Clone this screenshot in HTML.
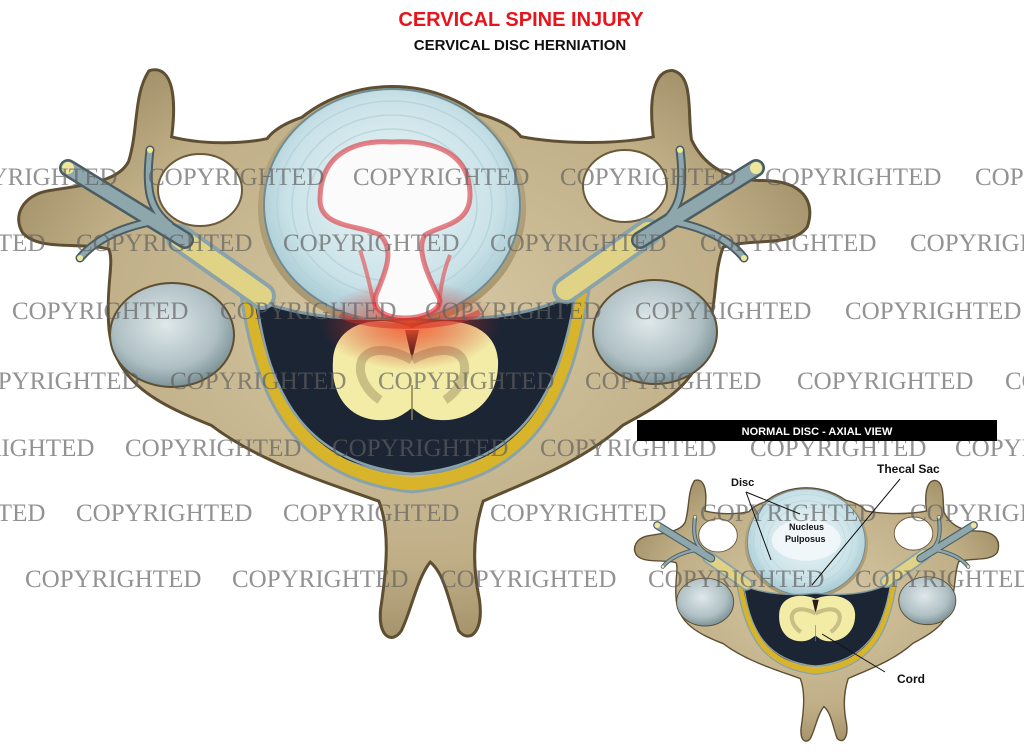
<!DOCTYPE html>
<html><head><meta charset="utf-8"><style>
html,body{margin:0;padding:0;background:#fff;}
body{width:1024px;height:755px;overflow:hidden;}
svg{display:block;}
</style></head><body>
<svg width="1024" height="755" viewBox="0 0 1024 755" xmlns="http://www.w3.org/2000/svg">
<defs>
<radialGradient id="bone" cx="50%" cy="45%" r="60%">
<stop offset="0" stop-color="#d8caa6"/><stop offset="0.7" stop-color="#bfae86"/><stop offset="1" stop-color="#9c8a63"/>
</radialGradient>
<radialGradient id="facet" cx="45%" cy="40%" r="60%">
<stop offset="0" stop-color="#dfe8ea"/><stop offset="0.7" stop-color="#aebfc3"/><stop offset="1" stop-color="#7d9398"/>
</radialGradient>
<radialGradient id="disc" cx="50%" cy="45%" r="55%">
<stop offset="0" stop-color="#eef6f8"/><stop offset="0.75" stop-color="#c9e2e8"/><stop offset="1" stop-color="#a9cad3"/>
</radialGradient>
<radialGradient id="glow" cx="50%" cy="50%" r="50%">
<stop offset="0" stop-color="#ff5a2a" stop-opacity="0.9"/><stop offset="1" stop-color="#c02020" stop-opacity="0"/>
</radialGradient>
<g id="vert">
  <g fill="#5e4e32" stroke="#5e4e32" stroke-width="6" stroke-linejoin="round">
    <path id="blob" d="M150,72 C172,66 175,100 170,138 C200,146 240,146 268,140 C300,95 490,95 520,138 C560,146 620,146 655,138 C650,100 655,72 672,72 C692,76 686,112 690,140 C700,162 722,182 762,182 C802,182 814,202 806,226 C792,246 752,236 722,246 C712,272 716,300 706,332 C700,382 662,402 622,424 C580,462 522,482 482,500 C472,530 470,562 478,600 C482,630 470,642 460,630 C450,600 446,572 430,560 C416,576 410,610 400,630 C392,642 380,636 382,610 C388,570 392,530 380,500 C330,482 262,462 212,424 C162,404 112,382 110,322 C108,282 116,262 110,248 C82,240 40,250 24,232 C14,216 24,196 50,192 C90,186 120,182 130,162 C140,130 135,95 150,72 Z"/>
    <ellipse cx="392" cy="208" rx="134" ry="120"/>
  </g>
  <g fill="url(#bone)">
    <use href="#blob"/>
    <ellipse cx="392" cy="208" rx="134" ry="120"/>
  </g>
  <ellipse cx="200" cy="190" rx="42" ry="36" fill="#fff" stroke="#6b5a3a" stroke-width="2"/>
  <ellipse cx="625" cy="186" rx="42" ry="36" fill="#fff" stroke="#6b5a3a" stroke-width="2"/>
  <ellipse cx="172" cy="335" rx="62" ry="52" fill="url(#facet)" stroke="#5e4e32" stroke-width="2"/>
  <ellipse cx="655" cy="332" rx="62" ry="52" fill="url(#facet)" stroke="#5e4e32" stroke-width="2"/>
  <ellipse cx="392" cy="205" rx="128" ry="116" fill="url(#disc)" stroke="#6f8c94" stroke-width="2"/>
  <g fill="none" stroke="#b4d2d9" stroke-width="1.5" opacity="0.8">
    <ellipse cx="392" cy="205" rx="115" ry="104"/>
    <ellipse cx="392" cy="205" rx="100" ry="90"/>
    <ellipse cx="392" cy="205" rx="85" ry="76"/>
  </g>
  <path d="M252,298 C300,318 360,322 412,316 C470,322 530,318 578,292 C570,390 530,470 412,474 C296,470 258,390 252,298 Z" fill="#1c2534" stroke="#7d98a2" stroke-width="3"/>
  <path d="M246,290 C262,400 300,472 412,484 C528,472 568,400 584,286" fill="none" stroke="#d8b42a" stroke-width="13"/>
  <path d="M240,288 C256,404 296,480 412,492 C532,480 574,404 590,282" fill="none" stroke="#8aa3ab" stroke-width="3"/>
  <path d="M256,296 C268,396 306,464 412,474 C522,464 560,396 576,290" fill="none" stroke="#8aa3ab" stroke-width="2.5"/>
  <path d="M262,296 L180,238" stroke="#8aa3ab" stroke-width="28" stroke-linecap="round"/>
  <path d="M262,296 L180,238" stroke="#e0d386" stroke-width="20" stroke-linecap="round"/>
  <path d="M566,290 L648,232" stroke="#8aa3ab" stroke-width="28" stroke-linecap="round"/>
  <path d="M566,290 L648,232" stroke="#e0d386" stroke-width="20" stroke-linecap="round"/>
  <g stroke="#4a5d63" stroke-linecap="round" fill="none">
    <path d="M68,168 L185,240" stroke-width="18"/>
    <path d="M150,150 C145,190 150,210 170,225" stroke-width="9"/>
    <path d="M80,258 C95,240 120,228 150,222" stroke-width="9"/>
    <path d="M756,168 L640,240" stroke-width="18"/>
    <path d="M680,150 C685,190 680,210 660,225" stroke-width="9"/>
    <path d="M744,258 C730,240 705,228 675,222" stroke-width="9"/>
  </g>
  <g stroke="#8ea7ad" stroke-linecap="round" fill="none">
    <path d="M68,168 L185,240" stroke-width="13"/>
    <path d="M150,150 C145,190 150,210 170,225" stroke-width="5"/>
    <path d="M80,258 C95,240 120,228 150,222" stroke-width="5"/>
    <path d="M756,168 L640,240" stroke-width="13"/>
    <path d="M680,150 C685,190 680,210 660,225" stroke-width="5"/>
    <path d="M744,258 C730,240 705,228 675,222" stroke-width="5"/>
  </g>
  <circle cx="68" cy="168" r="6" fill="#efe79a"/>
  <circle cx="756" cy="168" r="6" fill="#efe79a"/>
  <circle cx="150" cy="150" r="3" fill="#efe79a"/>
  <circle cx="680" cy="150" r="3" fill="#efe79a"/>
  <circle cx="80" cy="258" r="3" fill="#efe79a"/>
  <circle cx="744" cy="258" r="3" fill="#efe79a"/>
  <path d="M412,328 C440,315 495,318 498,360 C500,400 470,422 440,420 C425,420 418,412 412,408 C406,412 398,420 384,420 C354,422 330,400 333,360 C336,318 385,315 412,328 Z" fill="#f3eca6"/>
  <path d="M405,330 L412,360 L419,330 Z" fill="#2a1a20"/>
  <path d="M412,360 C395,350 370,345 362,360 C356,375 368,392 380,400 M412,360 C430,350 455,345 463,360 C469,375 457,392 445,400" fill="none" stroke="#b7ad78" stroke-width="9" opacity="0.7"/>
  <line x1="412" y1="385" x2="412" y2="420" stroke="#8a8050" stroke-width="1.5"/>
</g>
</defs>

<use href="#vert"/>
<ellipse cx="410" cy="325" rx="90" ry="45" fill="url(#glow)"/>
<path d="M320,200 C320,150 360,140 392,142 C430,140 470,150 470,195 C470,225 440,225 425,235 C415,250 430,280 440,300 C440,312 420,318 405,318 C385,318 372,310 376,295 C386,270 395,250 380,235 C360,225 320,228 320,200 Z" fill="#fbfbfb" stroke="#d8303a" stroke-width="5" stroke-opacity="0.6"/>
<path d="M360,250 C370,280 372,300 376,310 M450,255 C440,280 440,300 438,310" stroke="#e2474a" stroke-width="4" fill="none" opacity="0.6"/>
<path d="M340,315 C370,330 450,330 480,312" stroke="#cc2a2a" stroke-width="6" fill="none" opacity="0.5"/>

<g transform="translate(626,448) scale(0.46)">
  <use href="#vert"/>
  <ellipse cx="392" cy="200" rx="75" ry="45" fill="#f2f7f9" opacity="0.9"/>
</g>

<g font-family="Liberation Serif, serif" font-size="25" fill="#5f5f5f" opacity="0.68">
  <text x="-59" y="185">COPYRIGHTED</text><text x="148" y="185">COPYRIGHTED</text><text x="353" y="185">COPYRIGHTED</text><text x="560" y="185">COPYRIGHTED</text><text x="765" y="185">COPYRIGHTED</text><text x="975" y="185">COPYRIGHTED</text>
  <text x="-131" y="251">COPYRIGHTED</text><text x="76" y="251">COPYRIGHTED</text><text x="283" y="251">COPYRIGHTED</text><text x="490" y="251">COPYRIGHTED</text><text x="700" y="251">COPYRIGHTED</text><text x="910" y="251">COPYRIGHTED</text>
  <text x="12" y="319">COPYRIGHTED</text><text x="220" y="319">COPYRIGHTED</text><text x="425" y="319">COPYRIGHTED</text><text x="635" y="319">COPYRIGHTED</text><text x="845" y="319">COPYRIGHTED</text>
  <text x="-37" y="389">COPYRIGHTED</text><text x="170" y="389">COPYRIGHTED</text><text x="378" y="389">COPYRIGHTED</text><text x="585" y="389">COPYRIGHTED</text><text x="797" y="389">COPYRIGHTED</text><text x="1005" y="389">COPYRIGHTED</text>
  <text x="-82" y="456">COPYRIGHTED</text><text x="125" y="456">COPYRIGHTED</text><text x="332" y="456">COPYRIGHTED</text><text x="540" y="456">COPYRIGHTED</text><text x="750" y="456">COPYRIGHTED</text><text x="955" y="456">COPYRIGHTED</text>
  <text x="-131" y="521">COPYRIGHTED</text><text x="76" y="521">COPYRIGHTED</text><text x="283" y="521">COPYRIGHTED</text><text x="490" y="521">COPYRIGHTED</text><text x="700" y="521">COPYRIGHTED</text><text x="910" y="521">COPYRIGHTED</text>
  <text x="25" y="587">COPYRIGHTED</text><text x="232" y="587">COPYRIGHTED</text><text x="440" y="587">COPYRIGHTED</text><text x="648" y="587">COPYRIGHTED</text><text x="855" y="587">COPYRIGHTED</text>
</g>

<rect x="637" y="420" width="360" height="21" fill="#000"/>
<text x="817" y="435" text-anchor="middle" font-family="Liberation Sans, sans-serif" font-weight="bold" font-size="11" fill="#fff">NORMAL DISC - AXIAL VIEW</text>

<g font-family="Liberation Sans, sans-serif" font-weight="bold" fill="#111">
  <text x="731" y="486" font-size="11">Disc</text>
  <text x="877" y="473" font-size="12">Thecal Sac</text>
  <text x="789" y="530" font-size="9">Nucleus</text>
  <text x="785" y="542" font-size="9">Pulposus</text>
  <text x="897" y="683" font-size="12">Cord</text>
</g>
<g stroke="#111" stroke-width="1">
  <line x1="746" y1="492" x2="800" y2="514"/>
  <line x1="746" y1="492" x2="771" y2="560"/>
  <line x1="900" y1="479" x2="812" y2="585"/>
  <line x1="822" y1="634" x2="885" y2="672"/>
</g>

<text x="521" y="26" text-anchor="middle" font-family="Liberation Sans, sans-serif" font-weight="bold" font-size="20" fill="#e8141c">CERVICAL SPINE INJURY</text>
<text x="520" y="50" text-anchor="middle" font-family="Liberation Sans, sans-serif" font-weight="bold" font-size="15" fill="#111">CERVICAL DISC HERNIATION</text>
</svg>
</body></html>
